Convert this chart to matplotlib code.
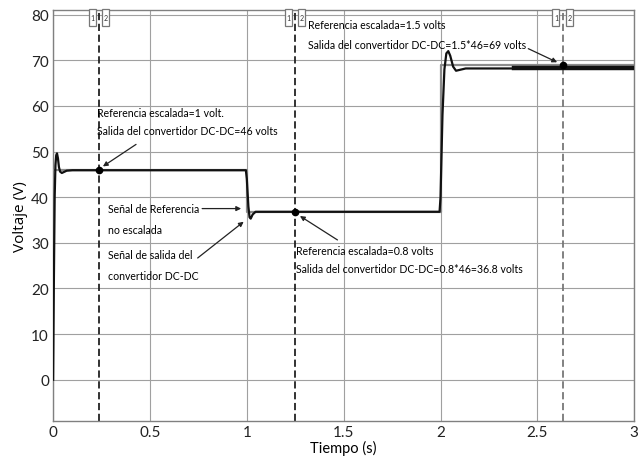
import numpy as np
import matplotlib
matplotlib.use("Agg")
import matplotlib.pyplot as plt
from matplotlib.patches import Rectangle

plt.rcParams['font.family'] = ['Lato', 'DejaVu Sans']

# ── data ──────────────────────────────────────────────────
# scaled reference (gray step)
ref_t = [0.0, 1.0, 1.0, 2.0, 2.0, 3.0]
ref_v = [46.0, 46.0, 36.8, 36.8, 69.0, 69.0]

# converter output (black)
out_t = [0.0, 0.004, 0.008, 0.012, 0.016, 0.02, 0.025, 0.03, 0.036, 0.045,
         0.055, 0.07, 0.1, 0.5, 0.995, 1.0, 1.008, 1.014, 1.02, 1.03,
         1.045, 1.1, 1.5, 1.995, 2.0, 2.01, 2.02, 2.03, 2.04, 2.05,
         2.065, 2.08, 2.1, 2.13, 2.2, 2.38]
out_v = [0.0, 22.0, 40.0, 47.0, 49.2, 49.6, 48.5, 46.6, 45.6, 45.3,
         45.5, 45.8, 45.9, 45.9, 45.9, 44.0, 38.0, 35.6, 35.3, 36.2,
         36.8, 36.8, 36.8, 36.8, 40.0, 58.0, 68.0, 71.5, 72.0, 71.0,
         68.6, 67.7, 67.9, 68.2, 68.2, 68.2]

# noisy tail (drawn thicker)
tail_t = [2.38, 3.0]
tail_v = [68.2, 68.2]

# cursor positions and marked points
cursor_t = [0.235, 1.25, 2.63]
dot_t = [0.235, 1.25, 2.63]
dot_v = [46.0, 36.8, 68.9]

xticks = [0, 0.5, 1, 1.5, 2, 2.5, 3]
xticklabels = ["0", "0.5", "1", "1.5", "2", "2.5", "3"]
yticks = [0, 10, 20, 30, 40, 50, 60, 70, 80]

# ── figure ────────────────────────────────────────────────
fig = plt.figure(figsize=(6.4, 4.6), dpi=100)
ax = fig.add_axes([0.083, 0.083, 0.908, 0.893])

ax.set_xlim(0, 3)
ax.set_ylim(-9, 81)
ax.set_xticks(xticks)
ax.set_xticklabels(xticklabels)
ax.set_yticks(yticks)
ax.grid(True, color="#a0a0a0", linewidth=0.8)
ax.set_axisbelow(True)
for s in ax.spines.values():
    s.set_color("#808080")
    s.set_linewidth(1.0)
ax.tick_params(length=0, labelsize=11, colors="#222222", pad=3)

ax.set_xlabel("Tiempo (s)", fontsize=10.5, labelpad=1)
ax.set_ylabel("Voltaje (V)", fontsize=11, labelpad=2, family=['Open Sans', 'DejaVu Sans'])

# cursors
ax.axvline(cursor_t[0], color="#222222", linestyle=(0, (4, 2)), linewidth=1.3, zorder=2)
ax.axvline(cursor_t[1], color="#222222", linestyle=(0, (4, 2)), linewidth=1.3, zorder=2)
ax.axvline(cursor_t[2], color="#777777", linestyle=(0, (4, 2)), linewidth=1.3, zorder=2)

bw, bh, gap = 0.036, 3.7, 0.016
for ct in cursor_t:
    for lab, x0 in (("1", ct - gap - bw), ("2", ct + gap)):
        ax.add_patch(Rectangle((x0, 77.5), bw, bh, fc="white", ec="#777777", lw=0.9,
                               zorder=6, clip_on=False))
        ax.text(x0 + bw / 2, 79.3, lab, ha="center", va="center", fontsize=5,
                color="#333333", zorder=7)

# signals
ax.plot(ref_t, ref_v, color="#8c8c8c", linewidth=1.6, zorder=3)
ax.plot(out_t, out_v, color="#111111", linewidth=1.6, zorder=4)
ax.plot(tail_t, tail_v, color="#111111", linewidth=3.2, zorder=4)
ax.plot(dot_t, dot_v, "o", color="black", markersize=4.5, zorder=5)

# annotations
fs = 7.6
arr = dict(arrowstyle="-|>", color="#222222", lw=0.9, mutation_scale=7)

ax.text(0.225, 58.6, "Referencia escalada=1 volt.", fontsize=fs, va="center")
ax.text(0.225, 54.5, "Salida del convertidor DC-DC=46 volts", fontsize=fs, va="center")
ax.annotate("", xy=(0.245, 46.4), xytext=(0.44, 51.9), arrowprops=arr)

ax.text(0.285, 37.5, "Señal de Referencia", fontsize=fs, va="center")
ax.text(0.285, 32.9, "no escalada", fontsize=fs, va="center")
ax.annotate("", xy=(0.985, 37.5), xytext=(0.755, 37.5), arrowprops=arr)

ax.text(0.285, 27.4, "Señal de salida del", fontsize=fs, va="center")
ax.text(0.285, 22.8, "convertidor DC-DC", fontsize=fs, va="center")
ax.annotate("", xy=(0.995, 35.0), xytext=(0.735, 26.3), arrowprops=arr)

ax.text(1.255, 28.3, "Referencia escalada=0.8 volts", fontsize=fs, va="center")
ax.text(1.255, 24.3, "Salida del convertidor DC-DC=0.8*46=36.8 volts", fontsize=fs, va="center")
ax.annotate("", xy=(1.262, 36.2), xytext=(1.48, 30.3), arrowprops=arr)

ax.text(1.317, 77.8, "Referencia escalada=1.5 volts", fontsize=fs, va="center")
ax.text(1.317, 73.4, "Salida del convertidor DC-DC=1.5*46=69 volts", fontsize=fs, va="center")
ax.annotate("", xy=(2.615, 69.3), xytext=(2.44, 72.8), arrowprops=arr)

fig.savefig("out.png", dpi=100)
